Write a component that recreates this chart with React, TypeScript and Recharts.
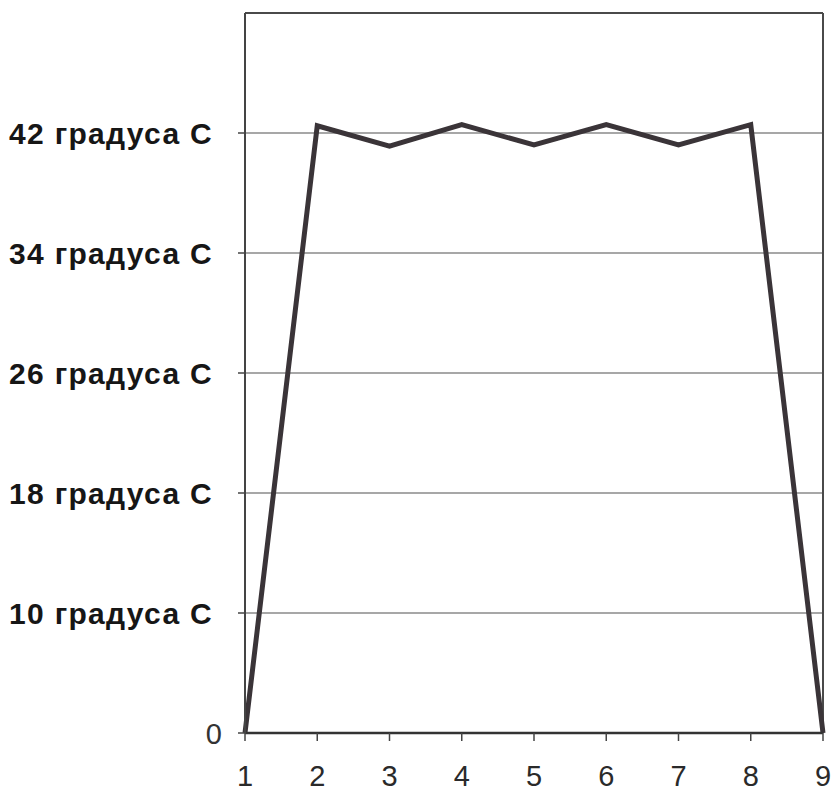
import React from "react";
import {
  LineChart,
  Line,
  XAxis,
  YAxis,
  CartesianGrid,
  ReferenceLine,
} from "recharts";

// Categories on the X axis
const xCategories = [1, 2, 3, 4, 5, 6, 7, 8, 9];
// Series values in axis steps (0 = "0", 1 = "10 градуса С", ... 5 = "42 градуса С")
const seriesValues = [0, 5.06, 4.89, 5.07, 4.9, 5.07, 4.9, 5.07, 0];
// Y tick positions (axis steps) and their labels
const yTickSteps = [0, 1, 2, 3, 4, 5];
const yTickLabels = [
  "0",
  "10 градуса С",
  "18 градуса С",
  "26 градуса С",
  "34 градуса С",
  "42 градуса С",
];
const yTopStep = 6;

const data = xCategories.map((x, i) => ({ x, v: seriesValues[i] }));

const FONT = '"Liberation Sans", Arial, sans-serif';

const YTick = (props: any) => {
  const { x, y, payload } = props;
  const idx = yTickSteps.indexOf(payload.value);
  const label = yTickLabels[idx] ?? "";
  const isZero = payload.value === 0;
  return (
    <text
      x={isZero ? x - 16 : x - 25}
      y={y}
      dy={11}
      textAnchor="end"
      fontFamily={FONT}
      fontSize={isZero ? 29 : 30}
      fontWeight={isZero ? 400 : 700}
      letterSpacing={isZero ? 0 : 1.3}
      fill={isZero ? "#333" : "#161616"}
    >
      {label}
    </text>
  );
};

const XTick = (props: any) => {
  const { x, y, payload } = props;
  return (
    <text
      x={x}
      y={y}
      dy={45}
      textAnchor="middle"
      fontFamily={FONT}
      fontSize={29}
      fill="#2a2a2a"
    >
      {payload.value}
    </text>
  );
};

export default function App() {
  return (
    <div
      style={{
        position: "absolute",
        left: 0,
        top: 0,
        width: 835,
        height: 792,
        background: "#ffffff",
      }}
    >
      <LineChart
        width={835}
        height={792}
        data={data}
        margin={{ top: 13, right: 12, bottom: 0, left: 0 }}
      >
        <CartesianGrid
          vertical={false}
          stroke="#8a8a8a"
          strokeWidth={1.5}
        />
        <XAxis
          dataKey="x"
          type="number"
          domain={[1, 9]}
          ticks={xCategories}
          interval={0}
          height={59}
          tickSize={8}
          tickMargin={0}
          axisLine={{ stroke: "#333", strokeWidth: 2.5 }}
          tickLine={{ stroke: "#444", strokeWidth: 1.5 }}
          tick={<XTick />}
        />
        <YAxis
          type="number"
          domain={[0, yTopStep]}
          ticks={yTickSteps}
          interval={0}
          width={245}
          tickSize={7}
          tickMargin={0}
          axisLine={{ stroke: "#444", strokeWidth: 2 }}
          tickLine={{ stroke: "#444", strokeWidth: 1.5 }}
          tick={<YTick />}
        />
        <ReferenceLine y={yTopStep} stroke="#4a4a4a" strokeWidth={2} />
        <ReferenceLine x={9} stroke="#4a4a4a" strokeWidth={2} />
        <Line
          type="linear"
          dataKey="v"
          stroke="#3a3438"
          strokeWidth={5}
          strokeLinejoin="miter"
          dot={false}
          activeDot={false}
          isAnimationActive={false}
        />
      </LineChart>
    </div>
  );
}
